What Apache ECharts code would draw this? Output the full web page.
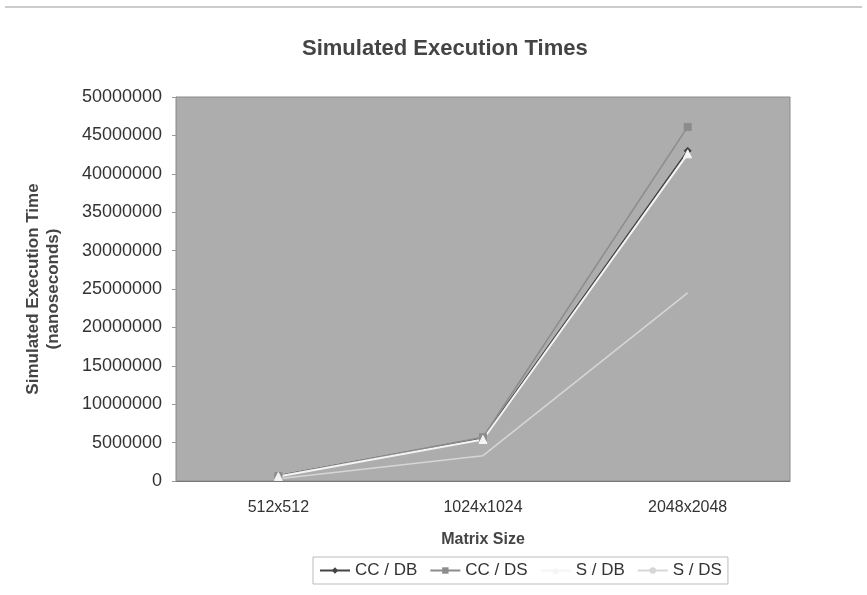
<!DOCTYPE html>
<html><head><meta charset="utf-8">
<script src="https://cdn.jsdelivr.net/npm/echarts@6/dist/echarts.min.js"></script>
<style>html,body{margin:0;padding:0;background:#fff}#c{width:867px;height:595px}</style>
</head><body><div id="c"></div>
<script>
const categories = ['512x512', '1024x1024', '2048x2048'];
const ccDB = [700000, 5600000, 43000000];
const ccDS = [650000, 5700000, 46100000];
const sDB = [600000, 5400000, 42600000];
const sDS = [300000, 3300000, 24500000];
const yTicks = [0, 5000000, 10000000, 15000000, 20000000, 25000000, 30000000, 35000000, 40000000, 45000000, 50000000];

const font = 'Liberation Sans, Arial, sans-serif';
const chart = echarts.init(document.getElementById('c'), null, {renderer: 'canvas'});
function s(name, data, color, symbol, size, width) {
  return {name, type: 'line', data, symbol, symbolSize: size,
    lineStyle: {color, width: width}, itemStyle: {color, borderColor: color},
    emphasis: {disabled: true}};
}
chart.setOption({
  animation: false,
  backgroundColor: '#fff',
  title: {text: 'Simulated Execution Times', left: 297, top: 33,
    textStyle: {fontFamily: font, fontSize: 22, fontWeight: 'bold', color: '#444'}},
  grid: {left: 176, right: 77, top: 97, bottom: 114, show: true,
    backgroundColor: '#adadad', borderColor: '#8a8a8a', borderWidth: 1},
  xAxis: {type: 'category', data: categories, boundaryGap: true,
    name: 'Matrix Size', nameLocation: 'middle', nameGap: 51,
    nameTextStyle: {fontFamily: font, fontSize: 16, fontWeight: 'bold', color: '#444'},
    axisLine: {lineStyle: {color: '#777'}}, axisTick: {show: false},
    axisLabel: {fontFamily: font, fontSize: 16, color: '#333', margin: 19}},
  yAxis: {type: 'value', min: yTicks[0], max: yTicks[yTicks.length - 1], interval: yTicks[1] - yTicks[0],
    name: 'Simulated Execution Time\n(nanoseconds)', nameLocation: 'middle', nameGap: 113,
    nameTextStyle: {fontFamily: font, fontSize: 17, fontWeight: 'bold', color: '#444', lineHeight: 20},
    splitLine: {show: false},
    axisLine: {show: true, lineStyle: {color: '#999'}},
    axisTick: {show: true, length: 4, lineStyle: {color: '#999'}},
    axisLabel: {fontFamily: font, fontSize: 18, color: '#333', margin: 14,
      formatter: v => String(v)}},
  legend: {top: 557, left: 313, itemGap: 12, itemWidth: 30, itemHeight: 8,
    padding: [5, 6], borderColor: '#bbb', borderWidth: 1,
    textStyle: {fontFamily: font, fontSize: 17, color: '#333'}},
  graphic: [{type: 'line', shape: {x1: 5, y1: 7, x2: 862, y2: 7}, style: {stroke: '#999', lineWidth: 1}}],
  series: [
    s('CC / DB', ccDB, '#444', 'diamond', 7, 1.5),
    s('CC / DS', ccDS, '#8c8c8c', 'rect', 7, 1.5),
    s('S / DB', sDB, '#f4f4f4', 'triangle', 8, 2),
    s('S / DS', sDS, '#d6d6d6', 'none', 6, 1.5)
  ]
});
</script></body></html>
